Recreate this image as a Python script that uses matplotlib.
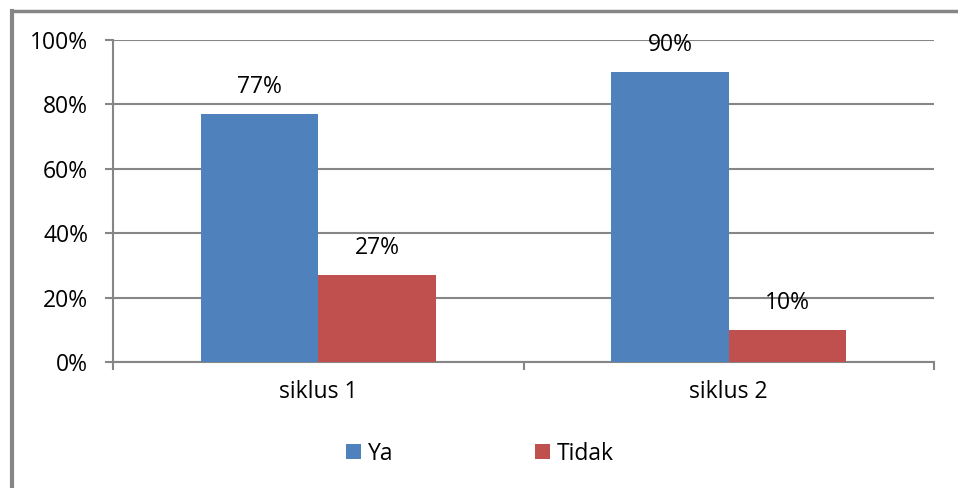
import matplotlib
matplotlib.use("Agg")
import matplotlib.pyplot as plt
import numpy as np
from matplotlib.patches import Patch
from matplotlib.lines import Line2D

categories = ["siklus 1", "siklus 2"]
series_names = ["Ya", "Tidak"]
ya_values = [77, 90]
tidak_values = [27, 10]
y_ticks = [0, 20, 40, 60, 80, 100]
colors = ["#4F81BD", "#C0504D"]
grid_color = "#868686"

plt.rcParams["font.family"] = ["Open Sans", "DejaVu Sans"]
FS = 16.5

fig = plt.figure(figsize=(9.58, 4.88), dpi=100)
ax = fig.add_axes([113 / 958, 1 - 362 / 488, (934 - 113) / 958, (362 - 40) / 488])

x = np.arange(len(categories))
width = 0.2857
for i, (vals, col) in enumerate(zip([ya_values, tidak_values], colors)):
    offs = (i - 0.5) * width
    bars = ax.bar(x + offs, vals, width=width, color=col, zorder=3)
    for xi, v in zip(x, vals):
        ax.annotate(f"{v}%", (xi + offs, v), xytext=(0, 19.5), textcoords="offset points",
                    ha="center", va="center", fontsize=FS, color="black", zorder=4)

ax.set_xlim(-0.5, len(categories) - 0.5)
ax.set_ylim(0, 100)
ax.set_yticks(y_ticks)
ax.set_yticklabels([f"{t}%" for t in y_ticks], fontsize=FS)
ax.yaxis.grid(True, color=grid_color, linewidth=1.5, zorder=0)
ax.set_axisbelow(True)

# category labels centered, ticks on category boundaries
ax.set_xticks(np.arange(-0.5, len(categories), 1.0))
ax.set_xticklabels([])
ax.set_xticks(x, minor=True)
ax.set_xticklabels(categories, minor=True, fontsize=FS)
ax.tick_params(axis="x", which="major", direction="out", length=6, width=1.5, color=grid_color)
ax.tick_params(axis="x", which="minor", length=0, pad=13)
ax.tick_params(axis="y", direction="out", length=6, width=1.5, color=grid_color, pad=12)

for side in ["top", "right"]:
    ax.spines[side].set_visible(False)
for side in ["left", "bottom"]:
    ax.spines[side].set_color(grid_color)
    ax.spines[side].set_linewidth(1.5)

handles = [Patch(facecolor=c, edgecolor="none") for c in colors]
fig.legend(handles, series_names, loc="center", bbox_to_anchor=(480 / 958, 1 - 453.5 / 488),
           ncol=2, frameon=False, fontsize=FS, handlelength=0.65, handleheight=0.65,
           handletextpad=0.3, columnspacing=6.2)

# outer chart border (left and top edges)
fig.add_artist(Line2D([12 / 958, 12 / 958], [0, 1 - 11 / 488], transform=fig.transFigure,
                      color=grid_color, linewidth=3, solid_capstyle="projecting"))
fig.add_artist(Line2D([12 / 958, 1], [1 - 11 / 488, 1 - 11 / 488], transform=fig.transFigure,
                      color=grid_color, linewidth=2.5, solid_capstyle="projecting"))

fig.savefig("out.png", dpi=100)
